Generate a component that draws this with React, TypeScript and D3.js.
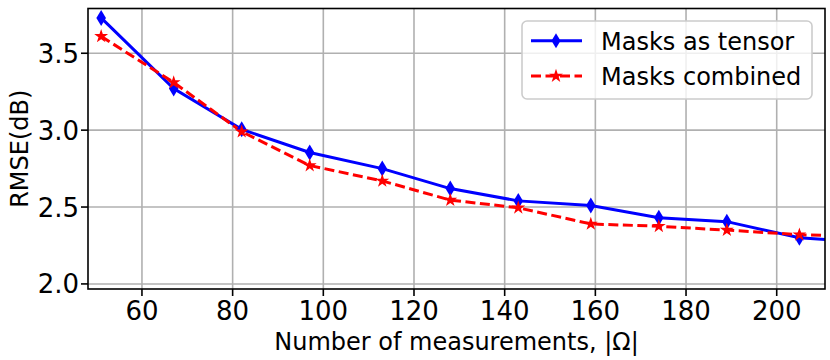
import React from "react";
import * as d3 from "d3";

// measurements |Ω|
const measurements = [51, 67, 82, 97, 113, 128, 143, 159, 174, 189, 205, 220];
const tensorRmse = [3.73, 3.27, 3.005, 2.855, 2.75, 2.62, 2.54, 2.51, 2.43, 2.405, 2.3, 2.27];
const combinedRmse = [3.61, 3.31, 2.99, 2.77, 2.67, 2.545, 2.495, 2.39, 2.375, 2.35, 2.32, 2.31];
const xTicks = [60, 80, 100, 120, 140, 160, 180, 200];
const yTicks = [2.0, 2.5, 3.0, 3.5];

const W = 830;
const H = 360;
const margin = { top: 8.5, right: 5, bottom: 71, left: 88 };
const font = "DejaVu Sans, sans-serif";

const diamondPath = (s: number) => `M0,${-s}L${s * 0.6},0L0,${s}L${-s * 0.6},0Z`;
const starPath = d3.symbol(d3.symbolStar, 60)()!;

export default function App() {
  const x = d3.scaleLinear().domain([48.1, 210.65]).range([margin.left, W - margin.right]);
  const y = d3.scaleLinear().domain([1.967, 3.791]).range([H - margin.bottom, margin.top]);

  const pts = (vals: number[]) => measurements.map((m, i) => [m, vals[i]] as [number, number]);
  const line = d3
    .line<[number, number]>()
    .x((d) => x(d[0]))
    .y((d) => y(d[1]));

  const x0 = margin.left;
  const x1 = W - margin.right;
  const y0 = margin.top;
  const y1 = H - margin.bottom;

  return (
    <svg width={W} height={H} style={{ position: "absolute", left: 0, top: 0, background: "#fff" }}>
      <defs>
        <clipPath id="plot">
          <rect x={x0} y={y0} width={x1 - x0} height={y1 - y0} />
        </clipPath>
      </defs>

      {/* grid */}
      {xTicks.map((t) => (
        <line key={"gx" + t} x1={x(t)} x2={x(t)} y1={y0} y2={y1} stroke="#b0b0b0" strokeWidth={1.6} />
      ))}
      {yTicks.map((t) => (
        <line key={"gy" + t} x1={x0} x2={x1} y1={y(t)} y2={y(t)} stroke="#b0b0b0" strokeWidth={1.6} />
      ))}

      {/* series */}
      <g clipPath="url(#plot)">
        <path d={line(pts(tensorRmse))!} fill="none" stroke="#0000ff" strokeWidth={3} />
        <path
          d={line(pts(combinedRmse))!}
          fill="none"
          stroke="#ff0000"
          strokeWidth={3}
          strokeDasharray="10,4.5"
        />
        {pts(tensorRmse).map((d, i) => (
          <path key={"t" + i} d={diamondPath(8)} transform={`translate(${x(d[0])},${y(d[1])})`} fill="#0000ff" />
        ))}
        {pts(combinedRmse).map((d, i) => (
          <path key={"c" + i} d={starPath} transform={`translate(${x(d[0])},${y(d[1])})`} fill="#ff0000" />
        ))}
      </g>

      {/* frame */}
      <rect x={x0} y={y0} width={x1 - x0} height={y1 - y0} fill="none" stroke="#000" strokeWidth={1.6} />

      {/* x axis */}
      {xTicks.map((t) => (
        <g key={"xt" + t}>
          <line x1={x(t)} x2={x(t)} y1={y1} y2={y1 + 7} stroke="#000" strokeWidth={1.6} />
          <text x={x(t)} y={320} textAnchor="middle" fontFamily={font} fontSize={26} fill="#000">
            {t}
          </text>
        </g>
      ))}
      {yTicks.map((t) => (
        <g key={"yt" + t}>
          <line x1={x0 - 7} x2={x0} y1={y(t)} y2={y(t)} stroke="#000" strokeWidth={1.6} />
          <text x={x0 - 9} y={y(t) + 9.5} textAnchor="end" fontFamily={font} fontSize={26} fill="#000">
            {t.toFixed(1)}
          </text>
        </g>
      ))}

      <text x={(x0 + x1) / 2} y={350} textAnchor="middle" fontFamily={font} fontSize={24} fill="#000">
        Number of measurements, |Ω|
      </text>
      <text
        transform={`translate(28,${(y0 + y1) / 2}) rotate(-90)`}
        textAnchor="middle"
        fontFamily={font}
        fontSize={24}
        fill="#000"
      >
        RMSE(dB)
      </text>

      {/* legend */}
      <g>
        <rect x={522} y={21} width={290} height={78} rx={5} fill="#fff" fillOpacity={0.8} stroke="#cccccc" strokeWidth={1.6} />
        <line x1={531} x2={582} y1={40.7} y2={40.7} stroke="#0000ff" strokeWidth={3} />
        <path d={diamondPath(7.5)} transform="translate(556,40.7)" fill="#0000ff" />
        <text x={601} y={49.5} fontFamily={font} fontSize={24} fill="#000">
          Masks as tensor
        </text>
        <line x1={531} x2={582} y1={76} y2={76} stroke="#ff0000" strokeWidth={3} strokeDasharray="10,4.5" />
        <path d={starPath} transform="translate(556,76)" fill="#ff0000" />
        <text x={601} y={84.8} fontFamily={font} fontSize={24} fill="#000">
          Masks combined
        </text>
      </g>
    </svg>
  );
}
